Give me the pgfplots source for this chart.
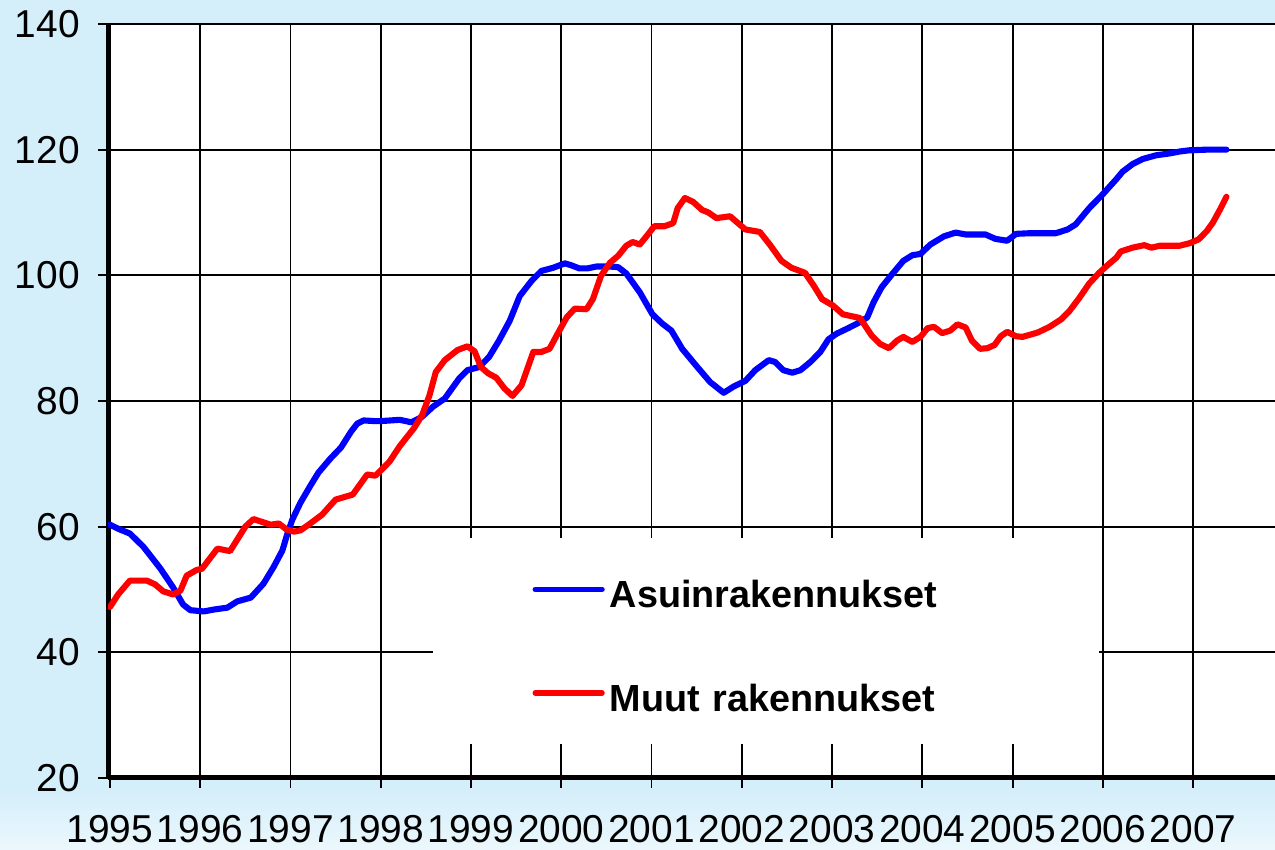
\documentclass[border=0pt]{standalone}
\usepackage{fontspec}
\setmainfont{Liberation Sans}
\usepackage{pgfplots}
\pgfplotsset{compat=1.18}
\definecolor{bgblue}{RGB}{212,238,250}

\begin{document}
\begin{tikzpicture}
% light blue page behind the chart, a little paler at the bottom
\fill[bgblue] (-38.88pt,-25.92pt) rectangle (420.1pt,280.04pt);
\shade[top color=bgblue, bottom color=bgblue!45!white] (-38.88pt,-25.92pt) rectangle (420.1pt,-4pt);
\begin{axis}[
    at={(0,0)}, anchor=south west,
    scale only axis,
    width=420.1pt, height=271.4pt,
    xmin=1994.978, xmax=2007.908,
    ymin=20, ymax=140,
    xtick={1995,1996,...,2007},
    xticklabels={1995,1996,1997,1998,1999,2000,2001,2002,2003,2004,2005,2006,2007},
    ytick={20,40,...,140},
    yticklabels={20,40,60,80,100,120,140},
    axis x line=bottom, axis y line=left,
    x axis line style={-, line width=1.8pt},
    y axis line style={-, line width=1.2pt},
    axis background/.style={fill=white},
    grid=major,
    major grid style={black, line width=0.7pt},
    tick align=outside,
    major tick length=3.6pt,
    tick style={black, line width=0.7pt},
    ticklabel style={font=\fontsize{14}{14}\selectfont},
    xticklabel style={yshift=-6.5pt},
    yticklabel style={xshift=-3pt},
    legend style={
        at={(0.2776,0.0438)}, anchor=south west,
        fill=white, draw=none,
        inner xsep=36pt, inner ysep=12pt,
        row sep=24.3pt, column sep=1.8pt,
        font=\bfseries\fontsize{13.6}{16}\selectfont,
        nodes={inner sep=0pt, text height=13pt, text depth=0pt},
        /tikz/every even column/.append style={text width=140.2pt, align=left},
    },
    legend cell align=left,
    legend image code/.code={\draw[#1, line width=2pt] (0pt,0pt) -- (24pt,0pt);},
    every axis plot/.append style={line width=2.2pt, line join=round, line cap=round},
]
\addplot[blue] coordinates {
(1995.00,60.3)(1995.10,59.6)(1995.22,58.9)(1995.37,56.8)(1995.56,53.3)(1995.70,50.3)
(1995.81,47.6)(1995.89,46.7)(1996.04,46.5)(1996.15,46.8)(1996.30,47.1)(1996.41,48.1)
(1996.56,48.7)(1996.70,50.9)(1996.81,53.5)(1996.91,56.2)(1996.96,58.6)(1997.02,61.1)
(1997.11,63.8)(1997.22,66.5)(1997.31,68.6)(1997.44,70.8)(1997.56,72.6)(1997.67,75.1)
(1997.74,76.4)(1997.81,76.9)(1997.93,76.8)(1998.00,76.8)(1998.11,76.9)(1998.21,77.0)
(1998.34,76.6)(1998.45,77.4)(1998.58,79.1)(1998.71,80.4)(1998.87,83.6)(1998.96,84.9)
(1999.09,85.4)(1999.20,87.0)(1999.31,89.6)(1999.43,92.8)(1999.54,96.7)(1999.67,99.1)
(1999.78,100.7)(1999.91,101.2)(2000.04,101.9)(2000.11,101.6)(2000.20,101.1)(2000.29,101.1)
(2000.39,101.4)(2000.53,101.4)(2000.63,101.3)(2000.72,100.3)(2000.87,97.3)(2001.01,93.8)
(2001.12,92.3)(2001.22,91.2)(2001.34,88.3)(2001.49,85.7)(2001.65,83.0)(2001.80,81.3)
(2001.91,82.3)(2002.04,83.2)(2002.15,84.9)(2002.30,86.5)(2002.37,86.2)(2002.46,84.9)
(2002.56,84.5)(2002.65,84.9)(2002.76,86.2)(2002.87,87.8)(2002.96,89.8)(2003.05,90.7)
(2003.18,91.6)(2003.29,92.4)(2003.39,93.3)(2003.46,95.7)(2003.55,98.1)(2003.65,99.9)
(2003.79,102.3)(2003.89,103.2)(2003.98,103.4)(2004.09,104.9)(2004.24,106.2)(2004.37,106.8)
(2004.48,106.5)(2004.70,106.5)(2004.81,105.8)(2004.94,105.5)(2005.04,106.6)(2005.19,106.7)
(2005.48,106.7)(2005.61,107.3)(2005.70,108.1)(2005.85,110.7)(2006.00,112.9)(2006.15,115.3)
(2006.22,116.5)(2006.33,117.7)(2006.44,118.5)(2006.59,119.1)(2006.74,119.4)(2006.85,119.7)
(2006.96,119.9)(2007.15,120.0)(2007.37,120.0)
};
\addlegendentry{Asuinrakennukset}
\addplot[red] coordinates {
(1995.00,47.2)(1995.09,49.2)(1995.22,51.4)(1995.41,51.4)(1995.50,50.8)(1995.59,49.7)
(1995.70,49.2)(1995.78,49.8)(1995.85,52.2)(1995.96,53.1)(1996.02,53.3)(1996.19,56.5)
(1996.33,56.1)(1996.50,60.0)(1996.59,61.2)(1996.78,60.3)(1996.87,60.5)(1996.96,59.5)
(1997.04,59.2)(1997.11,59.4)(1997.22,60.5)(1997.35,61.9)(1997.50,64.3)(1997.69,65.1)
(1997.85,68.3)(1997.94,68.1)(1998.04,69.5)(1998.10,70.4)(1998.21,72.8)(1998.37,75.7)
(1998.46,77.8)(1998.54,80.9)(1998.61,84.6)(1998.71,86.5)(1998.85,88.1)(1998.96,88.7)
(1999.04,87.9)(1999.11,85.4)(1999.19,84.4)(1999.28,83.7)(1999.37,82.0)(1999.46,80.8)
(1999.56,82.5)(1999.69,87.8)(1999.78,87.8)(1999.87,88.3)(1999.96,90.7)(2000.06,93.3)
(2000.15,94.7)(2000.28,94.6)(2000.35,96.2)(2000.44,99.9)(2000.54,102.0)(2000.63,103.1)
(2000.72,104.7)(2000.79,105.3)(2000.87,104.9)(2000.96,106.5)(2001.03,107.8)(2001.14,107.8)
(2001.24,108.3)(2001.29,110.7)(2001.37,112.3)(2001.46,111.7)(2001.56,110.4)(2001.63,110.0)
(2001.72,109.1)(2001.87,109.4)(2002.04,107.3)(2002.20,106.9)(2002.31,104.9)(2002.44,102.3)
(2002.55,101.2)(2002.70,100.4)(2002.80,98.3)(2002.89,96.2)(2003.01,95.2)(2003.12,93.8)
(2003.31,93.2)(2003.44,90.4)(2003.53,89.1)(2003.63,88.4)(2003.72,89.6)(2003.79,90.2)
(2003.89,89.4)(2003.98,90.2)(2004.06,91.6)(2004.13,91.8)(2004.22,90.8)(2004.31,91.2)
(2004.39,92.2)(2004.48,91.7)(2004.55,89.6)(2004.64,88.3)(2004.72,88.4)(2004.80,88.9)
(2004.87,90.3)(2004.94,91.0)(2005.04,90.3)(2005.11,90.2)(2005.28,90.9)(2005.41,91.8)
(2005.54,93.0)(2005.63,94.3)(2005.74,96.4)(2005.85,98.7)(2005.96,100.4)(2006.06,101.7)
(2006.15,102.8)(2006.20,103.8)(2006.33,104.4)(2006.46,104.8)(2006.54,104.4)(2006.63,104.7)
(2006.85,104.7)(2006.96,105.1)(2007.06,105.7)(2007.15,107.0)(2007.22,108.4)(2007.30,110.5)
(2007.37,112.5)
};
\addlegendentry{Muut rakennukset}
\end{axis}
\pgfresetboundingbox
\path[use as bounding box] (-38.88pt,-25.92pt) rectangle (420.1pt,280.04pt);
\end{tikzpicture}
\end{document}
